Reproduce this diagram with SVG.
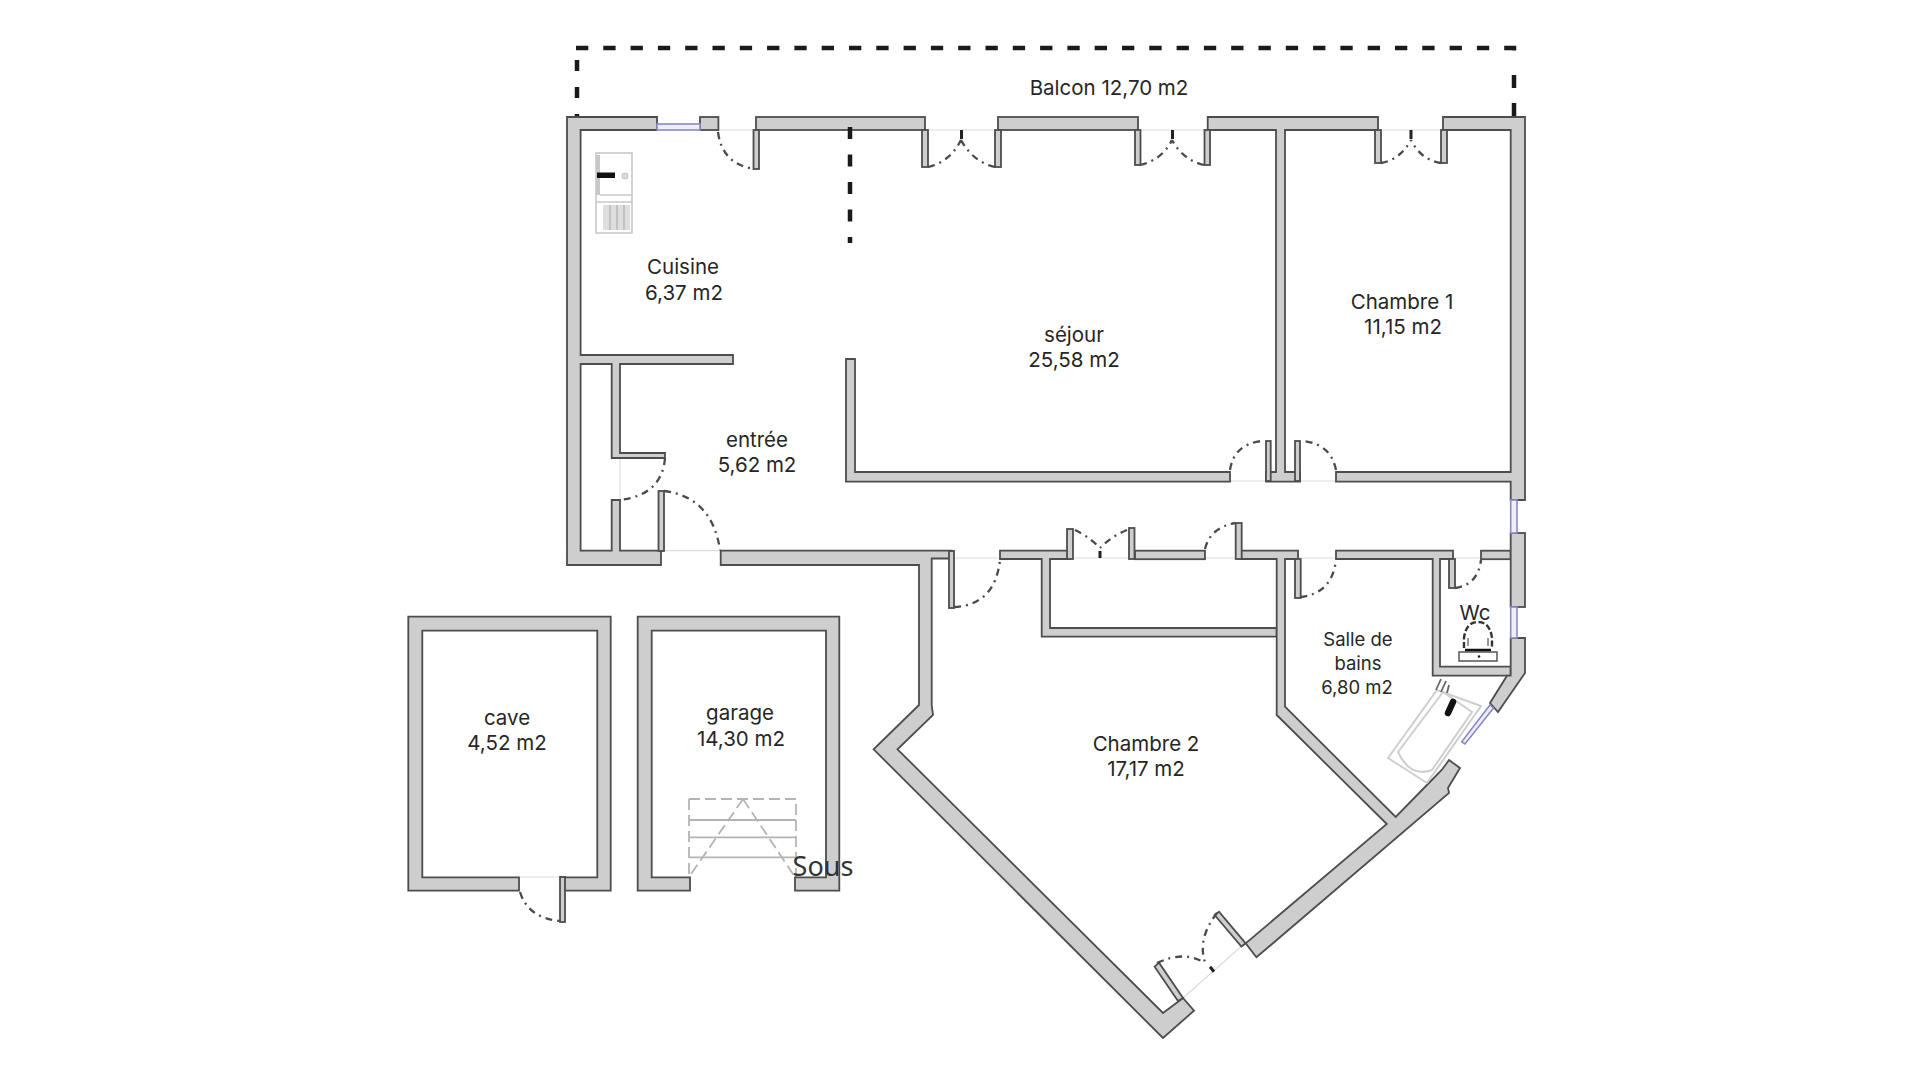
<svg xmlns="http://www.w3.org/2000/svg" width="1920" height="1080" viewBox="0 0 1920 1080">
<style>
.w{fill:#cecece;stroke:#4d4d4d;stroke-width:1.8;stroke-linejoin:miter}
.win{fill:#eeeefa;stroke:#8a8ac4;stroke-width:1.6}
.d{fill:none;stroke:#4a4a4a;stroke-width:2.3;stroke-dasharray:7 5 2 5}
.th{fill:none;stroke:#dcdcdc;stroke-width:1.2}
.da{fill:none;stroke:#1a1a1a;stroke-width:4.5}
.t{font-family:"Inter","Liberation Sans",sans-serif;font-size:20.5px;fill:#262626;text-anchor:middle}
.s{font-size:18.5px}
.st{fill:none;stroke:#b4b4b4;stroke-width:1.8}
.bath{fill:none;stroke:#cfcfcf;stroke-width:2}
</style>
<rect width="1920" height="1080" fill="#fff"/>
<g id="balcony">
<path class="da" d="M576,48 H1514 V59" stroke-dasharray="12.3 15"/>
<path class="da" d="M1514,75 V116" stroke-dasharray="13 15"/>
<path class="da" d="M577,60 V125" stroke-dasharray="11 16"/>
</g>
<g id="thresholds">
<path class="th" d="M718,130 H754 M928,130 H995 M1140,130 H1205 M1381,130 H1441 M661,550.7 H720 M620,458 V500 M951,558 H1000 M1073,558 H1128 M1205,558 H1236 M1298,558 H1336 M1453,558 H1481 M1230,481 H1266 M1300,481 H1336 M1183,998 L1245,943 M520,877 H560"/>
</g>
<g id="walls">
<path class="w" d="M567,117 H657 V130 H580.6 V355 H733 V364 H620 V453 H665 V458 H611.7 V364 H580.6 V550.7 H611.7 V500 H620 V550.7 H661 V565 H567 Z"/>
<rect class="w" x="700" y="117" width="18.4" height="13"/>
<rect class="w" x="756" y="117" width="169" height="13"/>
<rect class="w" x="998" y="117" width="140" height="13"/>
<path class="w" d="M1207.7,117 H1378 V130 H1285 V472 H1300 V481.7 H1266 V472 H1276 V130 H1207.7 Z"/>
<path class="w" d="M1443,117 H1525 V500 H1510.7 V481.7 H1336 V472 H1510.7 V130 H1443 Z"/>
<path class="w" d="M846,359 H855 V472 H1230 V481.7 H846 Z"/>
<path class="w" d="M720.7,550.7 H951.7 V558.5 H931.7 V705 L933,715 L897.5,749.3 L1163,1013 L1183,998 L1194,1010.7 L1163,1038 L873.6,749.3 L919,705 V565 H720.7 Z"/>
<path class="w" d="M1000,550.7 H1070 V559 H1050 V628 H1276.7 V636.7 H1041.7 V559 H1000 Z"/>
<rect class="w" x="1135" y="550.7" width="70" height="8.5"/>
<path class="w" d="M1240,550.7 H1298 V559 H1285 V706.7 L1395.7,817 L1425,787 L1441.7,770 L1449,760 L1460,768 L1448,788 L1449,793 L1256.4,957.3 L1245.7,943.3 L1386.8,824 L1276.7,715 V559 H1240 Z"/>
<path class="w" d="M1336,550.7 H1453 V559 H1440 V666.7 H1510.7 V675.7 H1432.7 V559 H1336 Z"/>
<rect class="w" x="1481" y="550.7" width="29.7" height="8.5"/>
<rect class="w" x="1510.7" y="533" width="14.3" height="74"/>
<path class="w" d="M1510.7,638 H1525 V673 L1498,712 L1490,703 L1507,675.7 H1510.7 Z"/>
</g>
<g id="windows">
<rect class="win" x="657" y="124" width="43" height="6"/>
<rect class="win" x="1510.7" y="500" width="6.3" height="33"/>
<rect class="win" x="1510.7" y="607" width="6.3" height="31"/>
<polygon class="win" points="1490,705 1493.5,708 1465,744 1461.7,741.7"/>
</g>
<g id="door-leaves">
<rect class="w" x="753.5" y="130" width="5.5" height="39"/>
<rect class="w" x="922" y="130" width="6" height="37"/>
<rect class="w" x="995" y="130" width="6" height="37"/>
<rect class="w" x="1135" y="130" width="5.5" height="35"/>
<rect class="w" x="1204.5" y="130" width="5.5" height="35"/>
<rect class="w" x="1375" y="130" width="6" height="33"/>
<rect class="w" x="1441" y="130" width="6" height="33"/>
<rect class="w" x="658.5" y="491" width="5.5" height="60"/>
<rect class="w" x="1266" y="441" width="4.7" height="40"/>
<rect class="w" x="1295" y="441" width="5" height="40"/>
<rect class="w" x="949" y="551" width="5" height="57"/>
<rect class="w" x="1067" y="529" width="6" height="30"/>
<rect class="w" x="1129" y="528" width="5.5" height="31"/>
<rect class="w" x="1235.7" y="523" width="6" height="36"/>
<rect class="w" x="1295" y="559" width="5.7" height="39"/>
<rect class="w" x="1449" y="559" width="6" height="29"/>
<polygon class="w" points="1154.6,966.7 1159,962.7 1183,998 1178,1001"/>
<polygon class="w" points="1214.6,915 1219,911.7 1245.7,943.3 1241.4,946.5"/>
</g>
<g id="door-swings">
<path class="d" d="M718,132 Q722,164 754,169"/>
<path class="d" d="M928,167 Q950,162 961,140 M995,167 Q973,162 961,140"/>
<path class="d" d="M1140,165 Q1162,160 1172,140 M1204,165 Q1183,160 1172,140"/>
<path class="d" d="M1381,163 Q1400,160 1411,140 M1441,163 Q1421,160 1411,140"/>
<path class="d" d="M665,458 Q662,495 620,500"/>
<path class="d" d="M664,491 Q712,497 720,550"/>
<path class="d" d="M1230,470 Q1234,444 1262,441 M1336,470 Q1331,444 1303,441"/>
<path class="d" d="M954,607 Q995,605 1000,560"/>
<path class="d" d="M1075,530 Q1088,536 1100,548 M1127,530 Q1112,536 1100,548"/>
<path class="d" d="M1205,549 Q1210,528 1235,523"/>
<path class="d" d="M1300,597 Q1332,594 1336,560"/>
<path class="d" d="M1455,588 Q1478,585 1481,560"/>
<path class="d" d="M1157,963 Q1185,950 1204.6,963 M1217,913 Q1196,940 1206,965"/>
<path class="d" d="M520,892 Q528,918 560,921"/>
<path d="M961.5,130 V139 M1172.5,130 V139 M1411,130 V139 M1100,551 V558 M1210,966.7 L1214,971.7" fill="none" stroke="#222" stroke-width="3"/>
</g>
<g id="partition-dashes">
<path class="da" d="M850,127 V243" stroke-dasharray="12 15.5"/>
</g>
<g id="sink">
<rect x="596" y="153" width="36" height="80" fill="#fff" stroke="#c8c8c8" stroke-width="1.6"/>
<rect x="596" y="155" width="4" height="40" fill="#c8c8c8"/>
<path d="M600,195 H632 M596,202 H632" stroke="#c8c8c8" stroke-width="1.4" fill="none"/>
<path d="M603,205 H630 V230 H603 Z" fill="#dedede"/>
<path d="M610,205 V230 M617,205 V230 M624,205 V230" stroke="#b0b0b0" stroke-width="1.2"/>
<rect x="597" y="172.5" width="18" height="5.5" fill="#111"/>
<circle cx="625" cy="176" r="3" fill="#ddd" stroke="#bbb"/>
</g>
<g id="bath">
<polygon class="bath" points="1388,758 1437,690 1481,706 1427,783"/>
<path class="bath" d="M1443,692 L1472,712 L1432,770 Q1410,778 1398,752 Z"/>
<path d="M1453,702 L1448,713" stroke="#111" stroke-width="6.5" stroke-linecap="round"/>
<path d="M1436,690 L1441,679 M1441,692 L1446,681 M1447,693 L1449,685" stroke="#666" stroke-width="1.8"/>
</g>
<g id="wc">
<rect x="1459" y="652" width="38" height="9" fill="#fff" stroke="#555" stroke-width="1.5"/>
<path d="M1465,650 H1491" stroke="#111" stroke-width="2.5"/>
<circle cx="1479" cy="656.5" r="1.3" fill="#222"/>
<path d="M1464,648 V638 Q1466,622 1478,622 Q1490,622 1492,638 V648" fill="none" stroke="#333" stroke-width="2.4" stroke-dasharray="6 2.5"/>
<path d="M1468,646 V638 M1488,646 V638" fill="none" stroke="#777" stroke-width="1.5"/>
</g>
<g id="cave">
<path class="w" d="M519,890.7 H408.3 V616.7 H610.7 V890.7 H561 V877.3 H597.3 V630.7 H422.3 V877.3 H519 Z"/>
<rect class="w" x="560" y="877" width="5" height="45"/>
</g>
<g id="garage">
<path class="st" d="M689,799 H796 V877 M689,799 V877 M743,799 L689,877 M743,799 L795,877" stroke-dasharray="11 5"/>
<path class="st" d="M689,820 H796 M689,837.3 H796 M689,857.3 H796"/>
<path class="w" d="M690,890.7 H637.7 V616.7 H839.3 V890.7 H795 V877.3 H826 V630.7 H651.7 V877.3 H690 Z"/>
</g>
<g id="labels">
<text class="t" x="1109" y="95">Balcon 12,70 m2</text>
<text class="t" x="683" y="274">Cuisine</text>
<text class="t" x="684" y="300">6,37 m2</text>
<text class="t" x="1074" y="342">séjour</text>
<text class="t" x="1074" y="367">25,58 m2</text>
<text class="t" x="1402" y="309">Chambre 1</text>
<text class="t" x="1403" y="334">11,15 m2</text>
<text class="t" x="757" y="447">entrée</text>
<text class="t" x="757" y="472">5,62 m2</text>
<text class="t s" x="1358" y="646">Salle de</text>
<text class="t s" x="1358" y="670">bains</text>
<text class="t s" x="1357" y="694">6,80 m2</text>
<text class="t" x="1475" y="620">Wc</text>
<text class="t" x="1146" y="751">Chambre 2</text>
<text class="t" x="1146" y="776">17,17 m2</text>
<text class="t" x="507" y="725">cave</text>
<text class="t" x="507" y="750">4,52 m2</text>
<text class="t" x="740" y="720">garage</text>
<text class="t" x="741" y="746">14,30 m2</text>
<text x="823" y="876" font-family="'Noto Sans',sans-serif" font-size="27" fill="#333" text-anchor="middle">Sous</text>
</g>
</svg>
